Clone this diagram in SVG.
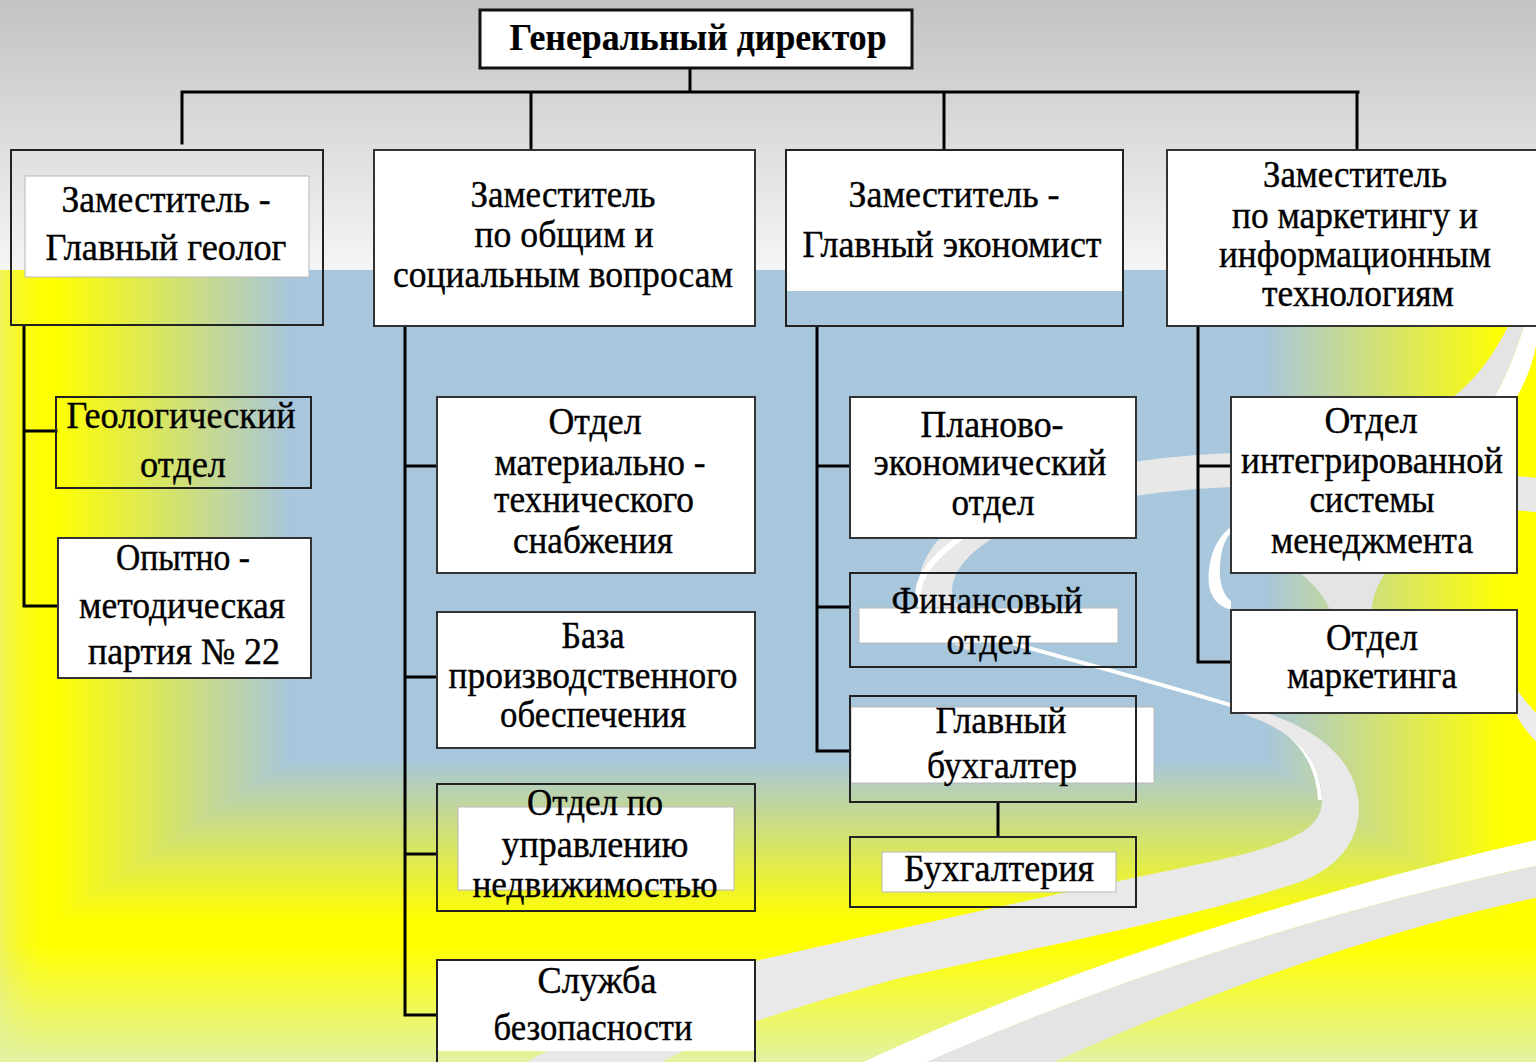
<svg xmlns="http://www.w3.org/2000/svg" width="1536" height="1062" viewBox="0 0 1536 1062">
<defs>
<style>
.box{fill:#ffffff;stroke:#333333;stroke-width:2}
.frame{fill:none;stroke:#222222;stroke-width:2}
.inner{fill:#ffffff;stroke:#b8b8b8;stroke-width:1}
.t{font-family:"Liberation Serif","Times New Roman",serif;font-size:37px;fill:#000000;stroke:#000000;stroke-width:0.4px;text-anchor:middle}
.tb{font-weight:bold;font-size:38px;stroke-width:0.2px}
.conn path{fill:none;stroke:#000000;stroke-width:3;stroke-linecap:square}
</style>
<linearGradient id="gTop" x1="0" y1="0" x2="0" y2="270" gradientUnits="userSpaceOnUse"><stop offset="0" stop-color="#c3c3c3"/><stop offset="1" stop-color="#f5f5f5"/></linearGradient>
<linearGradient id="gL" x1="55" y1="0" x2="290" y2="0" gradientUnits="userSpaceOnUse"><stop offset="0" stop-color="#ffff00"/><stop offset="1" stop-color="#a8c6dc"/></linearGradient>
<linearGradient id="gR" x1="1265" y1="0" x2="1505" y2="0" gradientUnits="userSpaceOnUse"><stop offset="0" stop-color="#a8c6dc"/><stop offset="1" stop-color="#ffff00"/></linearGradient>
<linearGradient id="gB" x1="0" y1="760" x2="0" y2="920" gradientUnits="userSpaceOnUse"><stop offset="0" stop-color="#a8c6dc"/><stop offset="1" stop-color="#ffff00"/></linearGradient>
<linearGradient id="gEdge" x1="0" y1="0" x2="55" y2="0" gradientUnits="userSpaceOnUse"><stop offset="0" stop-color="#eef25a" stop-opacity="1"/><stop offset="1" stop-color="#ffff00" stop-opacity="0"/></linearGradient>
<linearGradient id="gBot" x1="0" y1="945" x2="0" y2="1062" gradientUnits="userSpaceOnUse"><stop offset="0" stop-color="#e2f2a2" stop-opacity="0"/><stop offset="1" stop-color="#e2f2a2" stop-opacity="1"/></linearGradient>
</defs>

<g id="background">
<rect x="0" y="0" width="1536" height="270" fill="url(#gTop)"/>
<rect x="0" y="270" width="1536" height="792" fill="#ffff00"/>
<rect x="290" y="270" width="975" height="490" fill="#a8c6dc"/>
<polygon points="55,270 290,270 290,760 55,920" fill="url(#gL)" stroke="url(#gL)" stroke-width="1"/>
<polygon points="1265,270 1505,270 1505,920 1265,760" fill="url(#gR)" stroke="url(#gR)" stroke-width="1"/>
<polygon points="55,920 290,760 1265,760 1505,920" fill="url(#gB)" stroke="url(#gB)" stroke-width="1"/>
<rect x="0" y="270" width="55" height="792" fill="url(#gEdge)"/>
<rect x="0" y="945" width="1536" height="117" fill="url(#gBot)"/>

<path d="M1545,496 C1420,484 1300,468 1231,470 C1150,473 1040,490 990,520 C955,540 935,565 935,590 C935,610 950,625 975,635" fill="none" stroke="#e8e8e8" stroke-width="34"/>
<path d="M985,522 C940,548 919,572 918,594 C918,607 926,617 942,624" fill="none" stroke="#ffffff" stroke-width="6"/>
<path d="M960,628 C1050,655 1150,680 1240,708 C1295,726 1318,760 1320,800" fill="none" stroke="#ffffff" stroke-width="4"/>
<path d="M1236,712 C1300,730 1322,765 1322,800 C1322,832 1285,846 1200,864 C1080,889 900,928 760,960 C680,980 600,1020 520,1066 L655,1066 C720,1028 810,1003 900,978 C1050,945 1200,916 1300,882 C1358,860 1365,815 1355,785 C1342,745 1300,722 1250,708 Z" fill="#e9e9e9"/>
<path d="M1540,839 C1340,885 1080,960 855,1066 L918,1066 C1120,975 1350,905 1540,865 Z" fill="#ffffff"/>
<path d="M1540,865 C1350,905 1120,975 918,1066 L1045,1066 C1200,995 1380,930 1540,897 Z" fill="#e4e4e4"/>
<path d="M1512,318 L1527,318 C1515,355 1505,380 1494,398 L1452,398 C1475,380 1495,355 1512,318 Z" fill="#e4e4e4"/>
<path d="M1527,318 L1540,318 C1537,350 1530,375 1516,398 L1494,398 C1505,380 1515,355 1527,318 Z" fill="#ffffff"/>
<path d="M1231,527 C1213,540 1207,565 1209,585 C1211,598 1218,606 1231,610 L1231,601 C1223,595 1219,582 1220,566 C1221,550 1225,538 1231,533 Z" fill="#ffffff"/>
<path d="M1300,573 L1385,573 C1375,590 1372,600 1372,610 L1330,610 C1325,598 1315,585 1300,573 Z" fill="#e4e4e4"/>
<path d="M1517,690 C1525,700 1532,710 1540,716 L1540,745 C1530,736 1522,726 1517,716 Z" fill="#ececec"/>
</g>

<g id="connectors" class="conn">
<path d="M690,69 V92 M182,92 H1358 M182,92 V143 M531,92 V150 M944,92 V150 M1357,92 V150"/>
<path d="M24,326 V606 M24,431 H56 M24,606 H57"/>
<path d="M405,327 V1015 M405,466 H436 M405,677 H436 M405,854 H436 M405,1015 H436"/>
<path d="M817,327 V751 M817,466 H849 M817,607 H849 M817,751 H849 M998,803 V836"/>
<path d="M1198,327 V662 M1198,466 H1230 M1198,662 H1230"/>
</g>

<g id="n-director">
<rect x="480" y="10" width="432" height="58" fill="#ffffff" stroke="#111111" stroke-width="3"/>
<text class="t tb" x="698" y="50" textLength="377" lengthAdjust="spacingAndGlyphs">Генеральный директор</text>
</g>

<g id="n-geolog">
<rect class="frame" x="11" y="150" width="312" height="175"/>
<rect class="inner" x="25" y="176" width="284" height="101"/>
<text class="t" x="166" y="212" textLength="209" lengthAdjust="spacingAndGlyphs">Заместитель -</text>
<text class="t" x="166" y="260" textLength="241" lengthAdjust="spacingAndGlyphs">Главный геолог</text>
</g>

<g id="n-social">
<rect class="box" x="374" y="150" width="381" height="176"/>
<text class="t" x="563" y="207" textLength="185" lengthAdjust="spacingAndGlyphs">Заместитель</text>
<text class="t" x="564" y="247" textLength="179" lengthAdjust="spacingAndGlyphs">по общим и</text>
<text class="t" x="563" y="287" textLength="340" lengthAdjust="spacingAndGlyphs">социальным вопросам</text>
</g>

<g id="n-economist">
<rect x="786" y="150" width="337" height="141" fill="#ffffff"/>
<rect class="frame" x="786" y="150" width="337" height="176"/>
<text class="t" x="954" y="207" textLength="211" lengthAdjust="spacingAndGlyphs">Заместитель -</text>
<text class="t" x="952" y="257" textLength="299" lengthAdjust="spacingAndGlyphs">Главный экономист</text>
</g>

<g id="n-marketing-deputy">
<rect class="box" x="1167" y="150" width="373" height="176"/>
<text class="t" x="1355" y="187" textLength="184" lengthAdjust="spacingAndGlyphs">Заместитель</text>
<text class="t" x="1355" y="228" textLength="246" lengthAdjust="spacingAndGlyphs">по маркетингу и</text>
<text class="t" x="1355" y="267" textLength="272" lengthAdjust="spacingAndGlyphs">информационным</text>
<text class="t" x="1358" y="306" textLength="192" lengthAdjust="spacingAndGlyphs">технологиям</text>
</g>

<g id="n-geo-dept">
<rect class="frame" x="56" y="397" width="255" height="91"/>
<text class="t" x="181" y="428" textLength="229" lengthAdjust="spacingAndGlyphs">Геологический</text>
<text class="t" x="183" y="477" textLength="86" lengthAdjust="spacingAndGlyphs">отдел</text>
</g>

<g id="n-party">
<rect class="box" x="58" y="538" width="253" height="140"/>
<text class="t" x="183" y="570" textLength="134" lengthAdjust="spacingAndGlyphs">Опытно -</text>
<text class="t" x="182" y="618" textLength="206" lengthAdjust="spacingAndGlyphs">методическая</text>
<text class="t" x="184" y="664" textLength="192" lengthAdjust="spacingAndGlyphs">партия № 22</text>
</g>

<g id="n-supply">
<rect class="box" x="437" y="397" width="318" height="176"/>
<text class="t" x="595" y="434" textLength="93" lengthAdjust="spacingAndGlyphs">Отдел</text>
<text class="t" x="600" y="475" textLength="211" lengthAdjust="spacingAndGlyphs">материально -</text>
<text class="t" x="594" y="512" textLength="200" lengthAdjust="spacingAndGlyphs">технического</text>
<text class="t" x="593" y="553" textLength="160" lengthAdjust="spacingAndGlyphs">снабжения</text>
</g>

<g id="n-base">
<rect class="box" x="437" y="612" width="318" height="136"/>
<text class="t" x="593" y="648" textLength="63" lengthAdjust="spacingAndGlyphs">База</text>
<text class="t" x="593" y="688" textLength="289" lengthAdjust="spacingAndGlyphs">производственного</text>
<text class="t" x="593" y="727" textLength="186" lengthAdjust="spacingAndGlyphs">обеспечения</text>
</g>

<g id="n-property">
<rect class="frame" x="437" y="784" width="318" height="127"/>
<rect class="inner" x="458" y="807" width="276" height="83"/>
<text class="t" x="595" y="815" textLength="136" lengthAdjust="spacingAndGlyphs">Отдел по</text>
<text class="t" x="595" y="857" textLength="187" lengthAdjust="spacingAndGlyphs">управлению</text>
<text class="t" x="595" y="897" textLength="245" lengthAdjust="spacingAndGlyphs">недвижимостью</text>
</g>

<g id="n-security">
<rect x="437" y="960" width="318" height="91" fill="#ffffff"/>
<path class="frame" d="M437,1070 V960 H755 V1070"/>
<text class="t" x="597" y="993" textLength="119" lengthAdjust="spacingAndGlyphs">Служба</text>
<text class="t" x="593" y="1040" textLength="199" lengthAdjust="spacingAndGlyphs">безопасности</text>
</g>

<g id="n-planning">
<rect class="box" x="850" y="397" width="286" height="141"/>
<text class="t" x="992" y="437" textLength="143" lengthAdjust="spacingAndGlyphs">Планово-</text>
<text class="t" x="990" y="475" textLength="233" lengthAdjust="spacingAndGlyphs">экономический</text>
<text class="t" x="993" y="515" textLength="83" lengthAdjust="spacingAndGlyphs">отдел</text>
</g>

<g id="n-finance">
<rect class="frame" x="850" y="573" width="286" height="94"/>
<rect class="inner" x="859" y="608" width="259" height="35"/>
<text class="t" x="987" y="613" textLength="191" lengthAdjust="spacingAndGlyphs">Финансовый</text>
<text class="t" x="989" y="654" textLength="85" lengthAdjust="spacingAndGlyphs">отдел</text>
</g>

<g id="n-chief-accountant">
<rect class="inner" x="851" y="707" width="303" height="76"/>
<rect class="frame" x="850" y="696" width="286" height="106"/>
<text class="t" x="1001" y="733" textLength="131" lengthAdjust="spacingAndGlyphs">Главный</text>
<text class="t" x="1002" y="778" textLength="150" lengthAdjust="spacingAndGlyphs">бухгалтер</text>
</g>

<g id="n-accounting">
<rect class="frame" x="850" y="837" width="286" height="70"/>
<rect class="inner" x="882" y="852" width="234" height="40"/>
<text class="t" x="999" y="881" textLength="190" lengthAdjust="spacingAndGlyphs">Бухгалтерия</text>
</g>

<g id="n-ims">
<rect class="box" x="1231" y="397" width="286" height="176"/>
<text class="t" x="1371" y="433" textLength="93" lengthAdjust="spacingAndGlyphs">Отдел</text>
<text class="t" x="1372" y="473" textLength="262" lengthAdjust="spacingAndGlyphs">интегрированной</text>
<text class="t" x="1372" y="512" textLength="125" lengthAdjust="spacingAndGlyphs">системы</text>
<text class="t" x="1372" y="553" textLength="202" lengthAdjust="spacingAndGlyphs">менеджмента</text>
</g>

<g id="n-marketing">
<rect class="box" x="1231" y="610" width="286" height="103"/>
<text class="t" x="1372" y="650" textLength="92" lengthAdjust="spacingAndGlyphs">Отдел</text>
<text class="t" x="1372" y="688" textLength="170" lengthAdjust="spacingAndGlyphs">маркетинга</text>
</g>
</svg>
